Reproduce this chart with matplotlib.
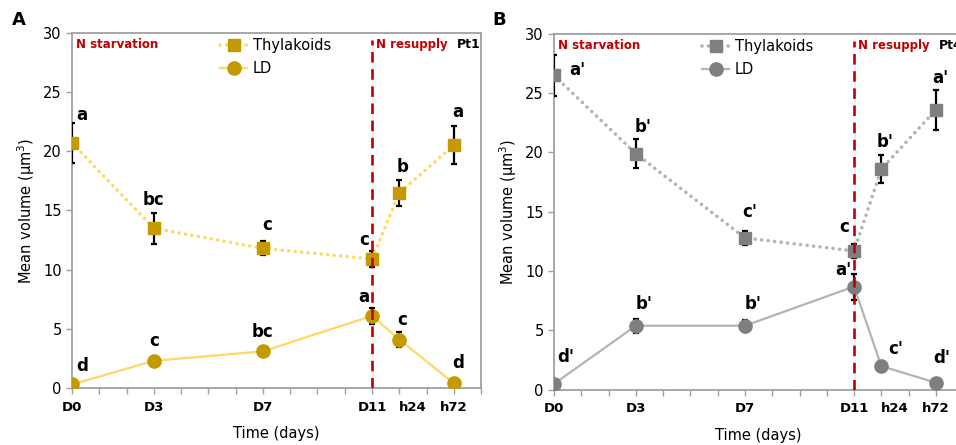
import matplotlib.pyplot as plt

# Data
days = [0, 3, 7, 11, 12, 14]
tick_labels = ['D0', 'D3', 'D7', 'D11', 'h24', 'h72']
resupply_day = 11

# Pt1
thy_pt1 = [20.7, 13.5, 11.8, 10.9, 16.5, 20.5]
thy_pt1_err = [1.7, 1.3, 0.6, 0.7, 1.1, 1.6]
ld_pt1 = [0.3, 2.3, 3.1, 6.1, 4.1, 0.4]
ld_pt1_err = [0.1, 0.1, 0.1, 0.7, 0.6, 0.1]
thy_pt1_letters = ['a', 'bc', 'c', 'c', 'b', 'a']
ld_pt1_letters = ['d', 'c', 'bc', 'a', 'c', 'd']

# Pt4
thy_pt4 = [26.5, 19.9, 12.8, 11.7, 18.6, 23.6]
thy_pt4_err = [1.7, 1.2, 0.6, 0.6, 1.2, 1.7]
ld_pt4 = [0.5, 5.4, 5.4, 8.7, 2.0, 0.6]
ld_pt4_err = [0.1, 0.6, 0.5, 1.1, 0.1, 0.1]
thy_pt4_letters = ["a'", "b'", "c'", "c", "b'", "a'"]
ld_pt4_letters = ["d'", "b'", "b'", "a'", "c'", "d'"]

# label offsets in pixels (dx, dy) from each point
thy_off_A = [(10, 28), (0, 28), (4, 23), (-8, 19), (3, 26), (4, 33)]
ld_off_A = [(10, 18), (0, 20), (0, 19), (-8, 19), (3, 20), (4, 20)]
thy_off_B = [(23, 5), (7, 27), (5, 26), (-10, 24), (4, 27), (4, 32)]
ld_off_B = [(12, 27), (8, 22), (8, 22), (-11, 17), (14, 17), (6, 25)]

RED = '#C00000'
SPINE = '#A0A0A0'


def draw_panel(ax, thy, thy_err, ld, ld_err, thy_lab, ld_lab, thy_off, ld_off,
               mk_col, line_col, strain):
    ax.errorbar(days, thy, yerr=thy_err, fmt='none', ecolor='black',
                elinewidth=1.6, capsize=2.5, capthick=1.6, zorder=3)
    ax.errorbar(days, ld, yerr=ld_err, fmt='none', ecolor='black',
                elinewidth=1.6, capsize=2.5, capthick=1.6, zorder=3)
    ax.plot(days, thy, linestyle=(0, (0.01, 1.8)), dash_capstyle='round', lw=2.6,
            color=line_col, marker='s', ms=9, mfc=mk_col, mec=mk_col,
            label='Thylakoids', zorder=4)
    ax.plot(days, ld, '-', lw=1.6, color=line_col, marker='o', ms=9.5,
            mfc=mk_col, mec=mk_col, label='LD', zorder=4)

    for x, y, t, o in zip(days, thy, thy_lab, thy_off):
        ax.annotate(t, (x, y), xytext=o, textcoords='offset pixels',
                    ha='center', va='center', fontsize=12, fontweight='bold', zorder=6)
    for x, y, t, o in zip(days, ld, ld_lab, ld_off):
        ax.annotate(t, (x, y), xytext=o, textcoords='offset pixels',
                    ha='center', va='center', fontsize=12, fontweight='bold', zorder=6)

    ax.axvline(resupply_day, ymin=0, ymax=0.98, color=RED, lw=1.9,
               dashes=(4, 2.5), zorder=5)
    ax.text(0.15, 29.0, 'N starvation', color=RED, fontsize=8.5,
            fontweight='bold', va='center')
    ax.text(11.15, 29.0, 'N resupply', color=RED, fontsize=8.5,
            fontweight='bold', va='center')
    ax.text(14.1, 29.0, strain, color='black', fontsize=9,
            fontweight='bold', va='center')

    ax.set_xlim(0, 15)
    ax.set_ylim(0, 30)
    ax.set_yticks(range(0, 31, 5))
    ax.set_xticks(days)
    ax.set_xticklabels(tick_labels, fontweight='bold', fontsize=9.5)
    ax.set_xticks(range(0, 16), minor=True)
    # D11 and h24 sit close together: push h24 to the right of its tick
    for lab in ax.get_xticklabels():
        if lab.get_text() == 'h24':
            lab.set_horizontalalignment('left')
    ax.tick_params(axis='x', which='both', direction='out', length=4,
                   color=SPINE, width=1, pad=5)
    ax.tick_params(axis='y', direction='out', length=4, color=SPINE,
                   width=1, labelsize=10.5)
    for s in ax.spines.values():
        s.set_color(SPINE)
        s.set_linewidth(1.3)
    ax.set_xlabel('Time (days)', fontsize=10.5, labelpad=9)
    ax.set_ylabel('Mean volume (µm$^3$)', fontsize=10.5, labelpad=4)
    ax.legend(loc='upper left', bbox_to_anchor=(0.345, 1.005), frameon=False,
              fontsize=10.5, borderpad=0, handlelength=1.8, handletextpad=0.4,
              labelspacing=0.55)


fig = plt.figure(figsize=(9.56, 4.45), dpi=100)
axA = fig.add_axes([0.0753, 0.128, 0.428, 0.798])
axB = fig.add_axes([0.5795, 0.124, 0.428, 0.800])

draw_panel(axA, thy_pt1, thy_pt1_err, ld_pt1, ld_pt1_err, thy_pt1_letters,
           ld_pt1_letters, thy_off_A, ld_off_A, '#C49A00', '#FFD966', 'Pt1')
draw_panel(axB, thy_pt4, thy_pt4_err, ld_pt4, ld_pt4_err, thy_pt4_letters,
           ld_pt4_letters, thy_off_B, ld_off_B, '#7F7F7F', '#B4B4B4', 'Pt4')

fig.text(0.012, 0.955, 'A', fontsize=13, fontweight='bold', va='center')
fig.text(0.515, 0.955, 'B', fontsize=13, fontweight='bold', va='center')

fig.savefig('out.png', dpi=100)
